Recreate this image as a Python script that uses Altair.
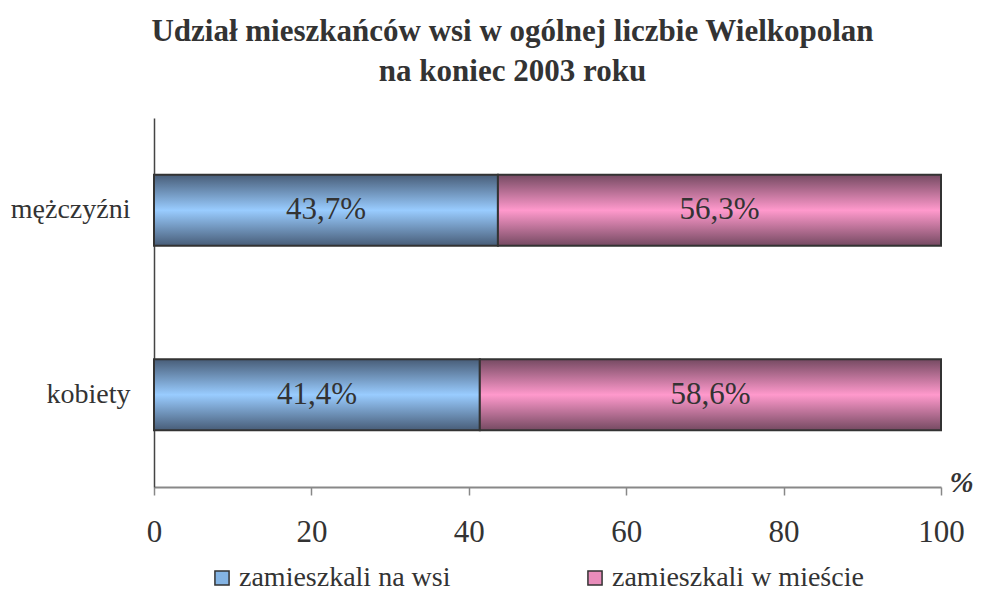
import altair as alt
import pandas as pd

categories = ["mężczyźni", "kobiety"]
wsi = [43.7, 41.4]
miasto = [56.3, 58.6]
series = ["zamieszkali na wsi", "zamieszkali w mieście"]
ticks = [0, 20, 40, 60, 80, 100]

rows = []
for c, a, b in zip(categories, wsi, miasto):
    rows.append({"kat": c, "seria": series[0], "start": 0.0, "end": a, "mid": a / 2,
                 "label": f"{a:.1f}%".replace(".", ",")})
    rows.append({"kat": c, "seria": series[1], "start": a, "end": a + b, "mid": a + b / 2,
                 "label": f"{b:.1f}%".replace(".", ",")})
df = pd.DataFrame(rows)

FONT = "Liberation Serif"

blue_grad = alt.Gradient(gradient="linear", x1=0, x2=0, y1=0, y2=1,
                         stops=[alt.GradientStop(color="#485d78", offset=0),
                                alt.GradientStop(color="#99ccff", offset=0.5),
                                alt.GradientStop(color="#485d78", offset=1)])
pink_grad = alt.Gradient(gradient="linear", x1=0, x2=0, y1=0, y2=1,
                         stops=[alt.GradientStop(color="#754a62", offset=0),
                                alt.GradientStop(color="#ff99cc", offset=0.5),
                                alt.GradientStop(color="#754a62", offset=1)])

x_enc = alt.X("start:Q", scale=alt.Scale(domain=[0, 100], nice=False),
              axis=alt.Axis(values=ticks, title="%", titleX=807, titleY=10,
                            titleAngle=0, titleFontStyle="italic", titleFontWeight="bold",
                            titleFontSize=29, titleFont=FONT, titleColor="#333",
                            titleAlign="center", titleBaseline="bottom",
                            grid=False, domainColor="#888", domainWidth=2,
                            tickColor="#888", tickWidth=1.5, tickSize=8,
                            labelFontSize=31, labelFont=FONT, labelColor="#333",
                            labelPadding=22, labelFlush=False))
y_enc = alt.Y("kat:N", sort=categories,
              scale=alt.Scale(paddingInner=0, paddingOuter=0),
              axis=alt.Axis(title=None, ticks=False, domainColor="#444", domainWidth=1.5,
                            labelFontSize=28, labelFont=FONT, labelColor="#333",
                            labelPadding=24))

base = alt.Chart(df)

legend_layer = base.mark_bar(size=71).encode(
    x=x_enc, x2="end:Q", y=y_enc,
    color=alt.Color("seria:N", scale=alt.Scale(domain=series, range=["#84b4e4", "#e88cba"]),
                    legend=alt.Legend(title=None, orient="none", legendX=54, legendY=446,
                                      direction="horizontal", columns=2, columnPadding=130,
                                      symbolType="square", symbolSize=200,
                                      symbolStrokeColor="#333", symbolStrokeWidth=1.5,
                                      labelFontSize=28, labelFont=FONT, labelColor="#333",
                                      labelOffset=3, labelLimit=400, symbolOffset=0, padding=0)),
)

blue_layer = base.transform_filter(alt.datum.seria == series[0]).mark_bar(
    size=71, fill=blue_grad, stroke="#333", strokeWidth=2).encode(
    x=alt.X("start:Q"), x2="end:Q", y=alt.Y("kat:N", sort=categories))
pink_layer = base.transform_filter(alt.datum.seria == series[1]).mark_bar(
    size=71, fill=pink_grad, stroke="#333", strokeWidth=2).encode(
    x=alt.X("start:Q"), x2="end:Q", y=alt.Y("kat:N", sort=categories))

text_layer = base.mark_text(fontSize=31, font=FONT, color="#333").encode(
    x=alt.X("mid:Q"), y=alt.Y("kat:N", sort=categories), text="label:N")

chart = alt.layer(legend_layer, blue_layer, pink_layer, text_layer).properties(
    width=787, height=369,
    autosize=alt.AutoSizeParams(type="none"),
    padding={"left": 146, "top": 110, "right": 34, "bottom": 106},
    title=alt.TitleParams(
        text=["Udział mieszkańców wsi w ogólnej liczbie Wielkopolan", "na koniec 2003 roku"],
        font=FONT, fontSize=31, fontWeight="bold", color="#333", anchor="middle",
        lineHeight=40, dx=-35, offset=30),
).configure(
    background="white", font=FONT
).configure_view(strokeWidth=0, stroke="transparent").configure_legend(labelFont=FONT)

chart.save("out.html", embed_options={"renderer": "svg", "actions": False})
